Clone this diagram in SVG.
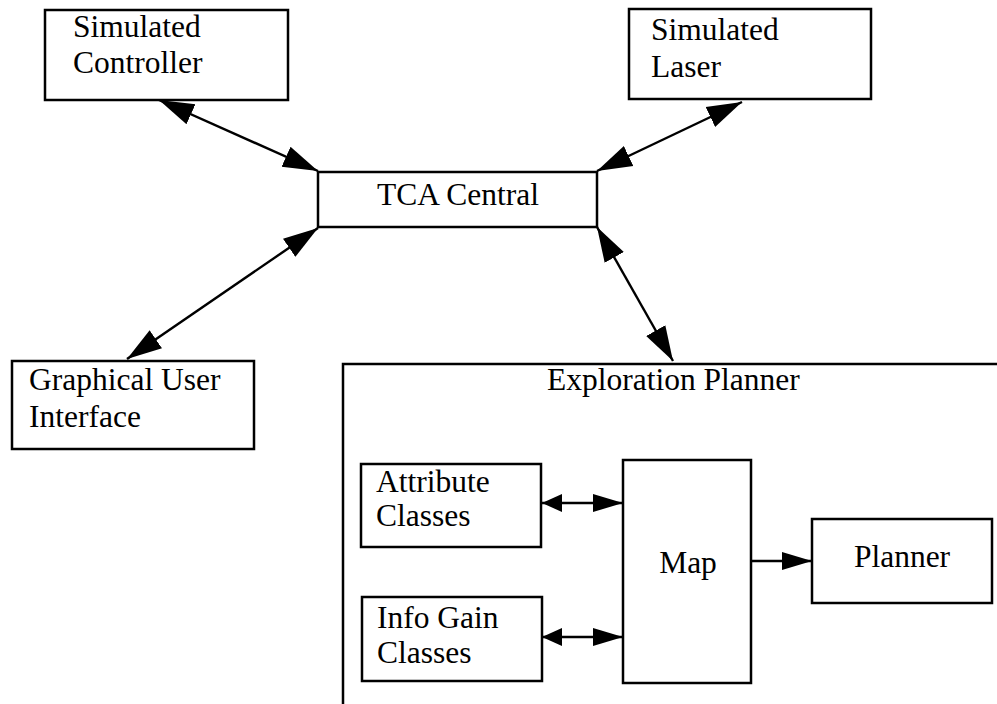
<svg xmlns="http://www.w3.org/2000/svg" width="997" height="704" viewBox="0 0 997 704">
  <style>
    .box { fill: #fff; stroke: #000; stroke-width: 2.5; }
    .frame { fill: none; stroke: #000; stroke-width: 2.5; }
    .lbl { font-family: "Liberation Serif", "Times New Roman", serif; font-size: 31.5px; fill: #000; }
    .mid { text-anchor: middle; }
    .link { stroke: #000; stroke-width: 2.4; fill: none; }
    .big { marker-start: url(#headBig); marker-end: url(#headBig); }
    .small2 { marker-start: url(#headShort); marker-end: url(#headSmall); }
    .small1 { marker-end: url(#headSmall); }
  </style>
  <defs>
    <marker id="headBig" markerUnits="userSpaceOnUse" markerWidth="36" markerHeight="24" refX="35" refY="12" orient="auto-start-reverse">
      <path d="M0,1 L35,12 L0,23 Z" fill="#000"/>
    </marker>
    <marker id="headSmall" markerUnits="userSpaceOnUse" markerWidth="31" markerHeight="18" refX="30" refY="9" orient="auto-start-reverse">
      <path d="M0,0 L30,9 L0,18 Z" fill="#000"/>
    </marker>
    <marker id="headShort" markerUnits="userSpaceOnUse" markerWidth="21" markerHeight="18" refX="20" refY="9" orient="auto-start-reverse">
      <path d="M0,0 L20,9 L0,18 Z" fill="#000"/>
    </marker>
  </defs>

  <g id="sim-controller">
    <rect class="box" x="45" y="10" width="243" height="90"/>
    <text class="lbl" x="73" y="37">Simulated</text>
    <text class="lbl" x="73" y="73">Controller</text>
  </g>

  <g id="sim-laser">
    <rect class="box" x="629" y="9" width="242" height="90"/>
    <text class="lbl" x="651" y="40">Simulated</text>
    <text class="lbl" x="651" y="77">Laser</text>
  </g>

  <g id="tca-central">
    <rect class="box" x="318" y="172" width="279" height="55"/>
    <text class="lbl mid" x="458" y="205">TCA Central</text>
  </g>

  <g id="gui">
    <rect class="box" x="12" y="361" width="242" height="88"/>
    <text class="lbl" x="29" y="390">Graphical User</text>
    <text class="lbl" x="29" y="427">Interface</text>
  </g>

  <g id="exploration-planner">
    <path class="frame" d="M343,704 L343,364 L997,364"/>
    <text class="lbl" x="547" y="390">Exploration Planner</text>
  </g>

  <g id="attribute-classes">
    <rect class="box" x="361" y="464" width="180" height="83"/>
    <text class="lbl" x="376" y="492">Attribute</text>
    <text class="lbl" x="376" y="526">Classes</text>
  </g>

  <g id="info-gain-classes">
    <rect class="box" x="362" y="597" width="180" height="84"/>
    <text class="lbl" x="377" y="628">Info Gain</text>
    <text class="lbl" x="377" y="663">Classes</text>
  </g>

  <g id="map">
    <rect class="box" x="623" y="460" width="128" height="223"/>
    <text class="lbl mid" x="688" y="573">Map</text>
  </g>

  <g id="planner">
    <rect class="box" x="812" y="519" width="180" height="84"/>
    <text class="lbl mid" x="902" y="567">Planner</text>
  </g>

  <g id="connectors">
    <line class="link big" x1="159" y1="100" x2="318" y2="171"/>
    <line class="link big" x1="742" y1="102" x2="597" y2="171"/>
    <line class="link big" x1="318" y1="228" x2="127" y2="359"/>
    <line class="link big" x1="597" y1="227" x2="673" y2="361"/>
    <line class="link small2" x1="542" y1="503" x2="623" y2="503"/>
    <line class="link small2" x1="542" y1="637" x2="623" y2="637"/>
    <line class="link small1" x1="751" y1="561" x2="812" y2="561"/>
  </g>
</svg>
